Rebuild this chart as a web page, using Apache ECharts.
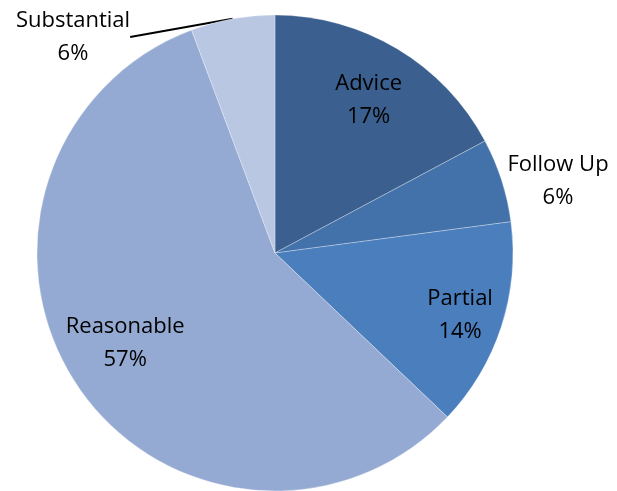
<!DOCTYPE html>
<html><head><meta charset="utf-8">
<script src="https://cdn.jsdelivr.net/npm/echarts@6/dist/echarts.min.js"></script>
<style>html,body{margin:0;padding:0;background:#fff}#c{width:617px;height:491px}</style>
</head><body><div id="c"></div>
<script>
const categories = ['Advice', 'Follow Up', 'Partial', 'Reasonable', 'Substantial'];
const values = [17.2, 5.7, 14.2, 57.2, 5.7];
const colors = ['#3B5F8E', '#4371A9', '#4A7EBD', '#95AAD2', '#B9C7E2'];

const chart = echarts.init(document.getElementById('c'), null, {renderer: 'canvas'});
const fontFamily = '"Open Sans", "Liberation Sans", sans-serif';
const fmt = p => p.name + '\n' + Math.round(p.percent) + '%';
const innerLabel = new Set(['Advice', 'Partial', 'Reasonable']);
const innerOffsets = {Advice: [0, 3], Partial: [12, 6], Reasonable: [2, -10]};
const outerPos = {'Follow Up': [558, 181], 'Substantial': [73, 37]};

const mainData = categories.map((n, i) => ({
  name: n, value: values[i],
  itemStyle: {color: colors[i]},
  label: {show: !innerLabel.has(n)},
  labelLine: {show: n === 'Substantial'}
}));
const labelData = categories.map((n, i) => ({
  name: n, value: values[i],
  label: {show: innerLabel.has(n), offset: innerOffsets[n] || [0, 0]}
}));

const labelStyle = {formatter: fmt, fontFamily, fontSize: 22, lineHeight: 33, color: '#000', overflow: 'none'};

chart.setOption({
  animation: false,
  series: [{
    type: 'pie', center: [275, 253], radius: [0, 238], startAngle: 90, clockwise: true,
    itemStyle: {borderColor: '#fff', borderWidth: 0.3},
    label: Object.assign({position: 'outside'}, labelStyle),
    labelLine: {length: 2, length2: 0, smooth: false, lineStyle: {color: '#000', width: 2}},
    labelLayout: function (p) {
      const pos = outerPos[categories[p.dataIndex]];
      if (!pos) return {};
      return {x: pos[0], y: pos[1], align: 'center', verticalAlign: 'middle'};
    },
    data: mainData
  }, {
    type: 'pie', center: [275, 253], radius: [120, 238], startAngle: 90, clockwise: true, silent: true,
    itemStyle: {color: 'rgba(0,0,0,0)', borderWidth: 0},
    label: Object.assign({position: 'inside'}, labelStyle),
    labelLine: {show: false},
    data: labelData
  }]
});
</script></body></html>
